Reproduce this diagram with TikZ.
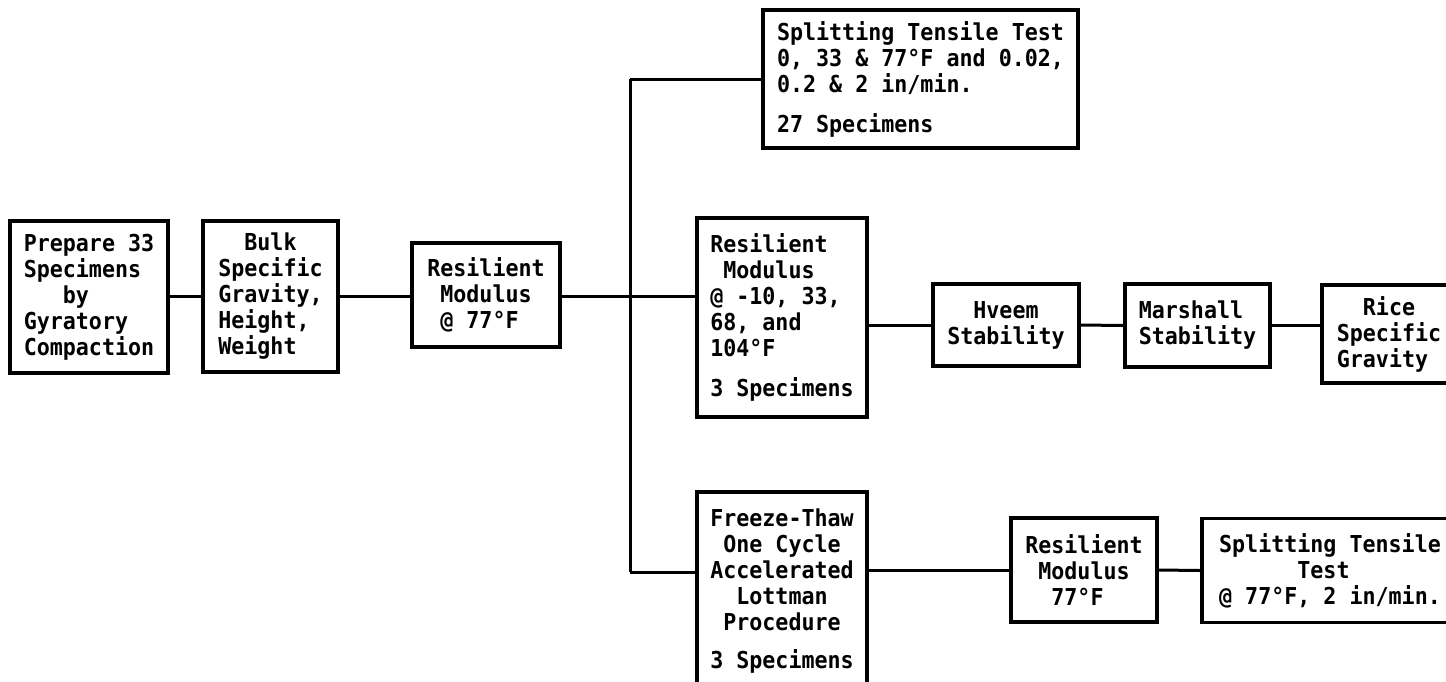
\documentclass[tikz,border=0pt]{standalone}
\usepackage{fontspec}
\newfontfamily\boxfont[FakeStretch=0.93]{DejaVu Sans Mono Bold}
\begin{document}
\begin{tikzpicture}[x=1pt,y=-1pt,
  box/.style={draw, line width=3.5pt, inner sep=0pt,
    font=\boxfont\fontsize{23.3}{26}\selectfont},
  link/.style={line width=3pt}]
\useasboundingbox (0,0) rectangle (1446,681);
\clip (0,0) rectangle (1446,681);
% left chain
\node[box, minimum width=158pt, minimum height=152pt, align=left] (prep) at (89,297)
  {Prepare 33\\Specimens\\\phantom{xxx}by\\Gyratory\\Compaction};
\node[box, minimum width=135pt, minimum height=151pt, align=left] (bulk) at (270.5,296.5)
  {\phantom{xx}Bulk\\Specific\\Gravity,\\Height,\\Weight};
\node[box, minimum width=148pt, minimum height=104pt, align=left] (rm77) at (486,295)
  {Resilient\\\phantom{x}Modulus\\\phantom{x}@ 77°F};
% branch boxes
\node[box, minimum width=315pt, minimum height=138pt, align=left] (stt) at (920.5,79)
  {Splitting Tensile Test\\0, 33 \& 77°F and 0.02,\\0.2 \& 2 in/min.\\[14pt]27 Specimens};
\node[box, minimum width=170pt, minimum height=199pt, align=left] (rm4) at (782,317.5)
  {Resilient\\\phantom{x}Modulus\\@ -10, 33,\\68, and\\104°F\\[14pt]3 Specimens};
\node[box, minimum width=170pt, minimum height=198pt, align=center] (freeze) at (782,591)
  {Freeze-Thaw\\One Cycle\\Accelerated\\Lottman\\Procedure\\[12pt]3 Specimens};
% middle row
\node[box, minimum width=146pt, minimum height=82pt, align=left] (hveem) at (1006,325)
  {\phantom{xx}Hveem\\Stability};
\node[box, minimum width=145pt, minimum height=83pt, align=left] (marsh) at (1197.5,325.5)
  {Marshall\\Stability};
\node[box, minimum width=134pt, minimum height=98pt, align=left] (rice) at (1389,334)
  {\phantom{xx}Rice\\Specific\\Gravity};
% bottom row
\node[box, minimum width=146pt, minimum height=104pt, align=left] (rm77b) at (1084,570)
  {Resilient\\\phantom{x}Modulus\\\phantom{xx}77°F};
\node[box, minimum width=256pt, minimum height=104pt, align=left] (stt2) at (1330,570.5)
  {Splitting Tensile\\\phantom{xxxxxx}Test\\@ 77°F, 2 in/min.};
% junction coordinates
\coordinate (jt) at (630,79);
\coordinate (jm) at (630,296);
\coordinate (jb) at (630,572);
% connectors
\draw[link] (prep.east |- jm) -- (bulk.west |- jm);
\draw[link] (bulk.east |- jm) -- (rm77.west |- jm);
\draw[link] (rm77.east |- jm) -- (jm) -- (jm -| rm4.west);
\draw[link] (jt) -- (stt.west);
\draw[link] (jt) -- (jb);
\draw[link] (jb) -- (jb -| freeze.west);
\draw[link] (rm4.east |- hveem.west) -- (hveem.west);
\draw[link] (hveem.east) -- (marsh.west);
\draw[link] (marsh.east) -- (marsh.east -| rice.west);
\draw[link] (freeze.east |- rm77b.west) -- (rm77b.west);
\draw[link] (rm77b.east) -- (stt2.west);
\end{tikzpicture}
\end{document}
